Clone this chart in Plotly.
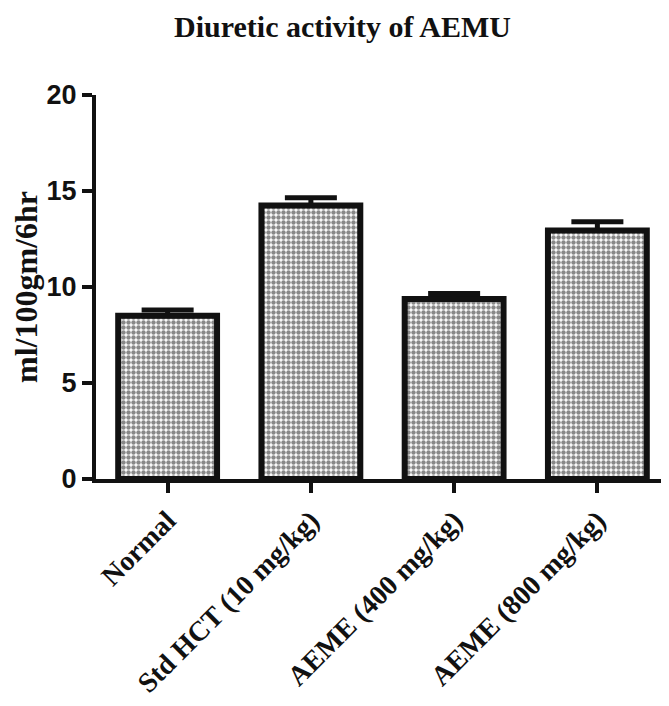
import plotly.graph_objects as go

categories = ["Normal", "Std HCT (10 mg/kg)", "AEME (400 mg/kg)", "AEME (800 mg/kg)"]
values = [8.5, 14.25, 9.38, 12.94]
errors = [0.3, 0.4, 0.28, 0.46]
y_ticks = [0, 5, 10, 15, 20]

serif = "Liberation Serif, Times New Roman, serif"
sans = "Liberation Sans, Arial, sans-serif"

fig = go.Figure()
fig.add_trace(go.Bar(
    x=categories,
    y=values,
    error_y=dict(type="data", symmetric=False, array=errors,
                 arrayminus=[0 for _ in errors], visible=True, color="#111111",
                 thickness=5, width=26),
    marker=dict(
        color="white",
        line=dict(color="#111111", width=6),
        pattern=dict(shape=".", fgcolor="#111111", bgcolor="white",
                     size=5, solidity=0.62, fillmode="overlay"),
    ),
    width=0.69,
))

fig.update_layout(
    width=669, height=706,
    paper_bgcolor="white", plot_bgcolor="white",
    margin=dict(l=85, r=8, t=87, b=235),
    showlegend=False,
    title=dict(text="<b>Diuretic activity of AEMU</b>", x=0.5, xanchor="center",
               y=0.974, yanchor="middle",
               font=dict(family=serif, size=30, color="#111111")),
    bargap=0.31,
)

fig.update_yaxes(
    range=[0, 20], tickvals=y_ticks, ticktext=[f"<b>{v}</b>" for v in y_ticks],
    showgrid=False, zeroline=False,
    showline=True, linecolor="#111111", linewidth=4,
    ticks="outside", ticklen=10, tickwidth=4, tickcolor="#111111",
    tickfont=dict(family=sans, size=27, color="#111111"),
    title=dict(text="<b>ml/100gm/6hr</b>", standoff=8,
               font=dict(family=serif, size=32, color="#111111")),
)

fig.update_xaxes(
    range=[-0.5, 3.5],
    showgrid=False, zeroline=False,
    showline=True, linecolor="#111111", linewidth=4,
    ticks="outside", ticklen=10, tickwidth=4, tickcolor="#111111",
    tickangle=-45,
    tickfont=dict(family=serif, size=28, color="#111111"),
    tickvals=categories, ticktext=[f"<b>{c}</b>" for c in categories],
)

fig.add_shape(type="line", xref="paper", yref="paper", x0=-0.018, x1=0, y0=0, y1=0,
              line=dict(color="#111111", width=4))

fig.write_html("out.html")
